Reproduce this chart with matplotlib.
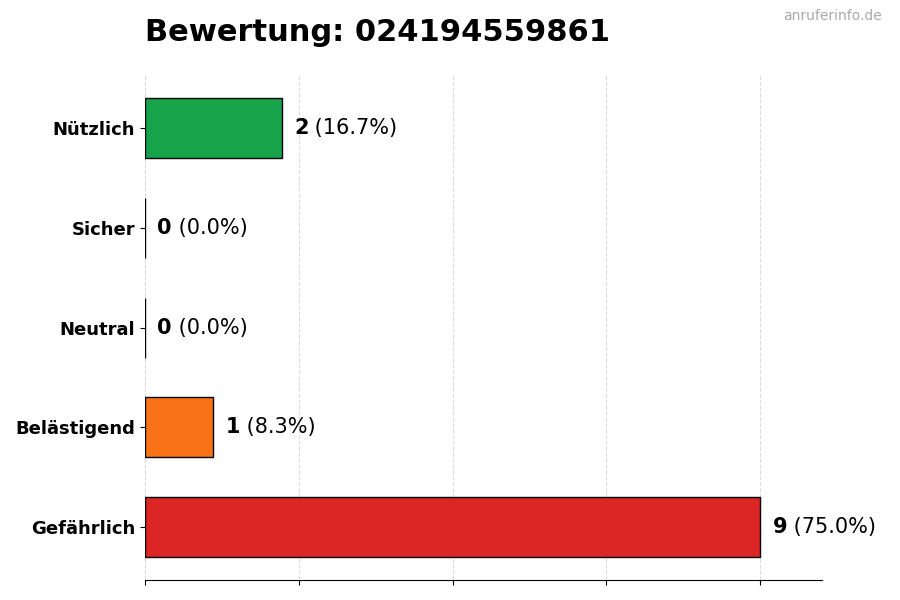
import numpy as np
import matplotlib
matplotlib.use('Agg')
import matplotlib.pyplot as plt

# Bewertungen (von unten nach oben)
kategorien = ['Gefährlich', 'Belästigend', 'Neutral', 'Sicher', 'Nützlich']
anzahl = [9, 1, 0, 0, 2]
farben = ['#dc2626', '#f97316', '#9ca3af', '#3b82f6', '#16a34a']
titel = 'Bewertung: 024194559861'
quelle = 'anruferinfo.de'

gesamt = sum(anzahl)
maxwert = max(anzahl)

fig = plt.figure(figsize=(9, 6), dpi=100)
ax = fig.add_axes([0.161, 0.033, 0.752, 0.842])

y = np.arange(len(kategorien))
ax.barh(y, anzahl, height=0.6, color=farben, edgecolor='black', linewidth=1)

ax.set_yticks(y)
ax.set_yticklabels(kategorien, fontsize=13, fontweight='bold')
ax.set_xlim(0, maxwert * 1.1)
ax.set_xticks(np.linspace(0, maxwert, 5))
ax.set_xticklabels([])
ax.grid(axis='x', linestyle='--', color='#cccccc', alpha=0.7)
ax.set_axisbelow(True)
for s in ['top', 'right', 'left']:
    ax.spines[s].set_visible(False)

versatz = maxwert * 0.02
for yi, wert in zip(y, anzahl):
    proz = wert / gesamt * 100
    t = ax.text(wert + versatz, yi, str(wert), va='center', ha='left',
                fontsize=15, fontweight='bold')
    ax.annotate(f' ({proz:.1f}%)', xycoords=t, xy=(1, 0.5), va='center',
                ha='left', fontsize=15)

fig.text(0.161, 0.932, titel, fontsize=22, fontweight='bold', ha='left', va='baseline')
fig.text(0.98, 0.967, quelle, fontsize=10, color='#aaaaaa', ha='right', va='baseline')

fig.savefig('out.png', dpi=100)
